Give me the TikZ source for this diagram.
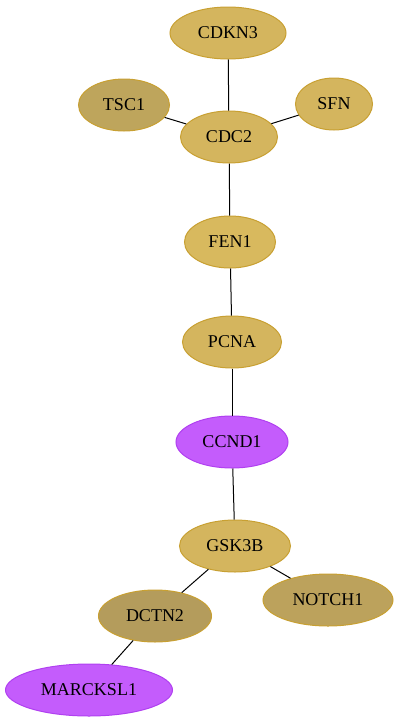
\documentclass[tikz,border=0pt]{standalone}
\usepackage{fontspec}
\setmainfont{Liberation Serif}
\usetikzlibrary{shapes.geometric}
\definecolor{goldA}{RGB}{212,181,94}
\definecolor{goldB}{RGB}{216,185,94}
\definecolor{goldC}{RGB}{190,165,92}
\definecolor{goldD}{RGB}{180,156,92}
\definecolor{goldE}{RGB}{188,162,92}
\definecolor{goldline}{RGB}{200,160,50}
\definecolor{purp}{RGB}{196,92,252}
\definecolor{purpline}{RGB}{176,64,240}
\tikzset{
  gene/.style={ellipse, draw=goldline, line width=1pt, inner sep=0pt, minimum height=52pt, font=\fontsize{18}{21}\selectfont, text=black},
  link/.style={draw=black, line width=1pt}
}
\begin{document}
\begin{tikzpicture}[x=1pt,y=-1pt]
\useasboundingbox (0,0) rectangle (400,724);
\node[gene, fill=goldA, minimum width=116pt] (CDKN3) at (228,33) {CDKN3};
\node[gene, fill=goldC, minimum width=91pt] (TSC1) at (124,105) {TSC1};
\node[gene, fill=goldA, minimum width=77pt] (SFN) at (334,104) {SFN};
\node[gene, fill=goldA, minimum width=97pt] (CDC2) at (229,137) {CDC2};
\node[gene, fill=goldB, minimum width=91pt] (FEN1) at (230,242) {FEN1};
\node[gene, fill=goldA, minimum width=99pt] (PCNA) at (232,342) {PCNA};
\node[gene, fill=purp, draw=purpline, minimum width=112pt] (CCND1) at (232,442) {CCND1};
\node[gene, fill=goldA, minimum width=111pt] (GSK3B) at (235,546) {GSK3B};
\node[gene, fill=goldD, minimum width=113pt] (DCTN2) at (155,616) {DCTN2};
\node[gene, fill=goldE, minimum width=130pt] (NOTCH1) at (328,600) {NOTCH1};
\node[gene, fill=purp, draw=purpline, minimum width=167pt] (MARCKSL1) at (89,690) {MARCKSL1};
\draw[link] (CDKN3) -- (CDC2);
\draw[link] (TSC1) -- (CDC2);
\draw[link] (SFN) -- (CDC2);
\draw[link] (CDC2) -- (FEN1);
\draw[link] (FEN1) -- (PCNA);
\draw[link] (PCNA) -- (CCND1);
\draw[link] (CCND1) -- (GSK3B);
\draw[link] (GSK3B) -- (DCTN2);
\draw[link] (GSK3B) -- (NOTCH1);
\draw[link] (DCTN2) -- (MARCKSL1);
\end{tikzpicture}
\end{document}
